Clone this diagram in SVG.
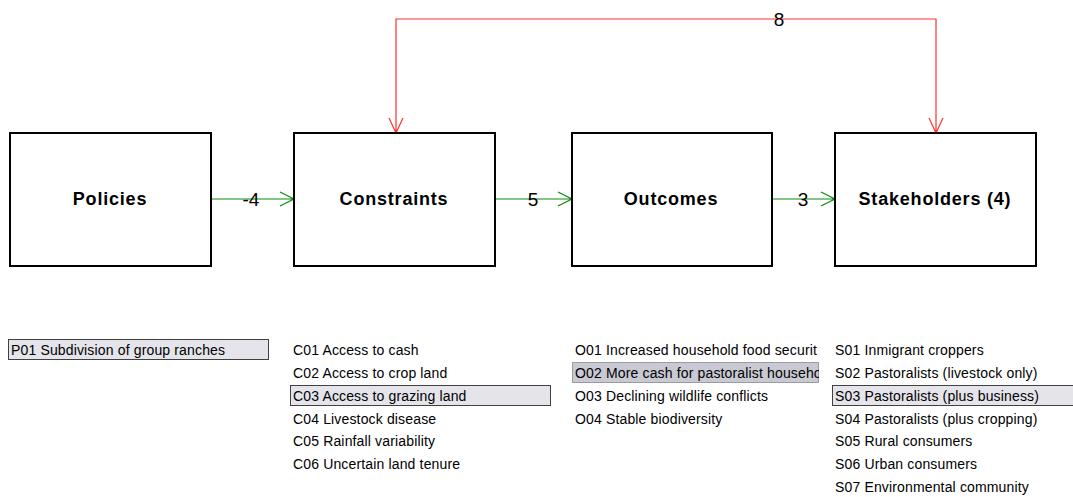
<svg xmlns="http://www.w3.org/2000/svg" width="1073" height="497" viewBox="0 0 1073 497">
<style>
.box{fill:#fff;stroke:#000;stroke-width:2}
.title{font-family:"Liberation Sans",Arial,sans-serif;font-weight:bold;font-size:18px;letter-spacing:0.8px;text-anchor:middle}
.lbl{font-family:"Liberation Sans",Arial,sans-serif;font-size:19px;text-anchor:middle}
.item{font-family:"Liberation Sans",Arial,sans-serif;font-size:14px;letter-spacing:0.15px;fill:#000}
.sel{fill:#e4e4ea;stroke:#404040;stroke-width:1}
.focus{fill:#c9c9d3;stroke:#555;stroke-width:1;stroke-dasharray:1 1}
.g{fill:none;stroke:#0a8a0a;stroke-width:1.2}
.r{fill:none;stroke:#ff3030;stroke-width:1.2}
</style>
<defs>
<clipPath id="oclip"><rect x="570" y="330" width="249" height="167"/></clipPath>
</defs>
<rect width="1073" height="497" fill="#fff"/>
<g id="connectors">
<g id="e-pc"><path class="g" d="M211 199H294M280 192L294 199L280 206"/><text class="lbl" x="251" y="206">-4</text></g>
<g id="e-co"><path class="g" d="M495 199H572M558 192L572 199L558 206"/><text class="lbl" x="533" y="206">5</text></g>
<g id="e-os"><path class="g" d="M772 199H835M821 192L835 199L821 206"/><text class="lbl" x="803" y="206">3</text></g>
<g id="e-sc"><path class="r" d="M936 133V19H396V133M389 118L396 133L403 118M929 118L936 133L943 118"/><text class="lbl" x="779" y="26">8</text></g>
</g>
<g id="policies"><rect class="box" x="10" y="133" width="201" height="133"/><text class="title" x="110" y="205">Policies</text></g>
<g id="constraints"><rect class="box" x="294" y="133" width="201" height="133"/><text class="title" x="394" y="205">Constraints</text></g>
<g id="outcomes"><rect class="box" x="572" y="133" width="200" height="133"/><text class="title" x="671" y="205">Outcomes</text></g>
<g id="stakeholders"><rect class="box" x="835" y="133" width="201" height="133"/><text class="title" x="935" y="205">Stakeholders (4)</text></g>
<g id="policy-list">
<rect class="sel" x="8.5" y="339.5" width="260" height="20"/>
<text class="item" x="11" y="355">P01 Subdivision of group ranches</text>
</g>
<g id="constraint-list">
<rect class="sel" x="290.5" y="385.5" width="260" height="20"/>
<text class="item" x="293" y="355">C01 Access to cash</text>
<text class="item" x="293" y="378">C02 Access to crop land</text>
<text class="item" x="293" y="401">C03 Access to grazing land</text>
<text class="item" x="293" y="424">C04 Livestock disease</text>
<text class="item" x="293" y="446">C05 Rainfall variability</text>
<text class="item" x="293" y="469">C06 Uncertain land tenure</text>
</g>
<g id="outcome-list">
<rect class="focus" x="572.5" y="362.5" width="246" height="20"/>
<g clip-path="url(#oclip)">
<text class="item" x="575" y="355">O01 Increased household food securit</text>
<text class="item" x="575" y="378">O02 More cash for pastoralist househo</text>
</g>
<text class="item" x="575" y="401">O03 Declining wildlife conflicts</text>
<text class="item" x="575" y="424">O04 Stable biodiversity</text>
</g>
<g id="stakeholder-list">
<rect class="sel" x="832.5" y="385.5" width="245" height="20"/>
<text class="item" x="835" y="355">S01 Inmigrant croppers</text>
<text class="item" x="835" y="378">S02 Pastoralists (livestock only)</text>
<text class="item" x="835" y="401">S03 Pastoralists (plus business)</text>
<text class="item" x="835" y="424">S04 Pastoralists (plus cropping)</text>
<text class="item" x="835" y="446">S05 Rural consumers</text>
<text class="item" x="835" y="469">S06 Urban consumers</text>
<text class="item" x="835" y="492">S07 Environmental community</text>
</g>
</svg>
